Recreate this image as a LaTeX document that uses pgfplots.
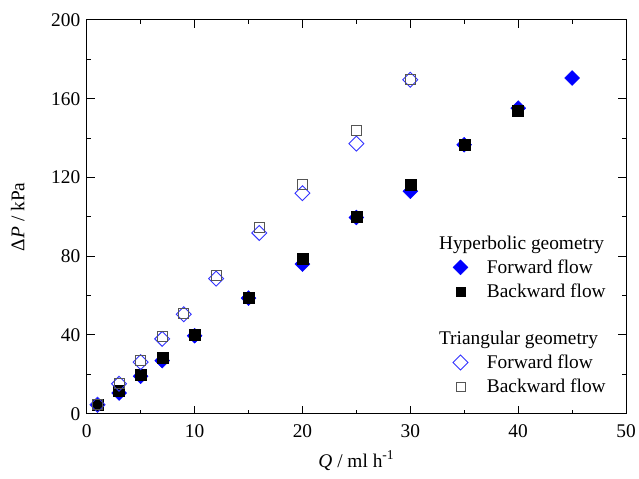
\documentclass[border=0pt]{standalone}
\usepackage{fontspec}
\setmainfont{Liberation Serif}
\usepackage{pgfplots}
\pgfplotsset{compat=1.18}
\definecolor{mblue}{RGB}{0,0,255}
\definecolor{oblue}{RGB}{50,50,255}
\definecolor{ogray}{RGB}{85,85,85}
\begin{document}
\begin{tikzpicture}[font=\fontsize{19.5}{23}\selectfont]
\begin{axis}[
 name=ax,
 scale only axis, width=541bp, height=395bp,
 xmin=0, xmax=50, ymin=0, ymax=200,
 xtick={0,10,...,50}, ytick={0,40,...,200},
 minor x tick num=1, minor y tick num=1,
 tick align=inside, major tick length=8bp, minor tick length=4bp,
 axis line style={line width=1bp},
 every tick/.style={black, line width=1bp},
 /pgf/number format/assume math mode=true,
 tick label style={font=\fontsize{19.5}{23}\selectfont},
 xticklabel style={yshift=-7bp},
 yticklabel style={xshift=-3bp},
 xlabel={\textit{Q} / ml h\textsuperscript{-1}},
 ylabel={Δ\textit{P} / kPa},
 label style={font=\fontsize{19.5}{23}\selectfont},
 xlabel style={at={(axis description cs:0.5,-0.119)}, anchor=center},
 ylabel style={at={(axis description cs:-0.128,0.5)}, anchor=center},
 legend style={draw=none, fill=none, at={(0.972,0.462)}, anchor=north east,
   row sep=5bp, font=\fontsize{19.5}{23}\selectfont,
   /tikz/every odd column/.append style={column sep=17bp}},
 legend cell align=left,
]
% hyperbolic forward
\addplot[only marks, mark=square*, mark size=5.3bp, mark options={rotate=45, fill=mblue, draw=mblue}, forget plot]
 coordinates {(1,4.5) (3,10.5) (5,19) (7,27) (10,39.6) (15,58.7) (20,76) (25,99.7) (30,113) (35,136.6) (40,155.2) (45,170.5)};
% hyperbolic backward
\addplot[only marks, mark=square*, mark size=5.5bp, mark options={fill=black, draw=black}, forget plot]
 coordinates {(1,4.5) (3,11.5) (5,20) (7,28.5) (10,40) (15,59) (20,78.5) (25,100) (30,116.5) (35,136.6) (40,153.9)};
% triangular forward
\addplot[only marks, mark=square, mark size=5.3bp, mark options={rotate=45, fill=white, draw=oblue, line width=0.9bp}, forget plot]
 coordinates {(1,4.5) (3,15.2) (5,26.2) (7,38) (9,50.5) (12,68.6) (16,91.8) (20,112) (25,137.2) (30,169.6)};
% triangular backward
\addplot[only marks, mark=square, mark size=5bp, mark options={fill=none, draw=ogray, line width=0.9bp}, forget plot]
 coordinates {(1,4.5) (3,15.5) (5,27) (7,39.3) (9,51) (12,70) (16,94.8) (20,116.5) (25,144) (30,170)};
\addlegendimage{empty legend}\addlegendentry{\hspace{-48bp}Hyperbolic geometry}
\addlegendimage{only marks, mark=square*, mark size=5.3bp, mark options={rotate=45, fill=mblue, draw=mblue}}
\addlegendentry{Forward flow}
\addlegendimage{only marks, mark=square*, mark size=4.5bp, mark options={fill=black, draw=black}}
\addlegendentry{Backward flow}
\addlegendimage{empty legend}\addlegendentry{\phantom{X}}
\addlegendimage{empty legend}\addlegendentry{\hspace{-48bp}Triangular geometry}
\addlegendimage{only marks, mark=square, mark size=5.3bp, mark options={rotate=45, fill=white, draw=oblue, line width=0.9bp}}
\addlegendentry{Forward flow}
\addlegendimage{only marks, mark=square, mark size=4.5bp, mark options={fill=none, draw=ogray, line width=0.9bp}}
\addlegendentry{Backward flow}
\end{axis}
\path ([shift={(-87bp,-65bp)}]ax.south west) rectangle ([shift={(11bp,20bp)}]ax.north east);
\end{tikzpicture}
\end{document}
